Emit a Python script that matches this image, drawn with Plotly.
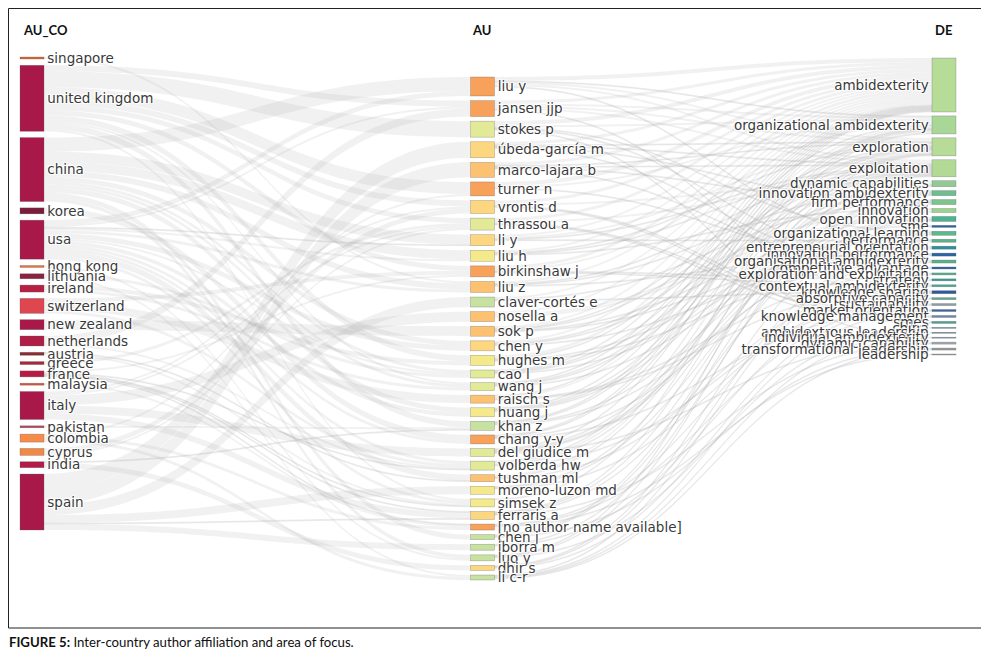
import plotly.graph_objects as go
from collections import defaultdict

# ---------------- DATA ----------------
countries = ["singapore", "united kingdom", "china", "korea", "usa", "hong kong", "lithuania",
             "ireland", "switzerland", "new zealand", "netherlands", "austria", "greece", "france",
             "malaysia", "italy", "pakistan", "colombia", "cyprus", "india", "spain"]

authors = ["liu y", "jansen jjp", "stokes p", "úbeda-garcía m", "marco-lajara b", "turner n",
           "vrontis d", "thrassou a", "li y", "liu h", "birkinshaw j", "liu z", "claver-cortés e",
           "nosella a", "sok p", "chen y", "hughes m", "cao l", "wang j", "raisch s", "huang j",
           "khan z", "chang y-y", "del giudice m", "volberda hw", "tushman ml", "moreno-luzon md",
           "simsek z", "ferraris a", "[no author name available]", "chen j", "iborra m", "luo y",
           "dhir s", "li c-r"]

keywords = ["ambidexterity", "organizational ambidexterity", "exploration", "exploitation",
            "dynamic capabilities", "innovation ambidexterity", "firm performance", "innovation",
            "open innovation", "sme", "organizational learning", "performance",
            "entrepreneurial orientation", "innovation performance", "organisational ambidexterity",
            "competitive advantage", "exploration and exploitation", "strategy",
            "contextual ambidexterity", "knowledge sharing", "absorptive capacity", "sustainability",
            "market orientation", "knowledge management", "smes", "china", "ambidextrous leadership",
            "individual ambidexterity", "dynamic capability", "transformational leadership",
            "leadership"]

country_author_links = [
    ("china", "liu y", 14), ("usa", "liu y", 5),
    ("netherlands", "jansen jjp", 8), ("usa", "jansen jjp", 2), ("united kingdom", "jansen jjp", 6),
    ("united kingdom", "stokes p", 16),
    ("spain", "úbeda-garcía m", 16),
    ("spain", "marco-lajara b", 15),
    ("united kingdom", "turner n", 12), ("colombia", "turner n", 2),
    ("italy", "vrontis d", 2), ("cyprus", "vrontis d", 5), ("united kingdom", "vrontis d", 6),
    ("italy", "thrassou a", 2), ("cyprus", "thrassou a", 2), ("greece", "thrassou a", 3),
    ("united kingdom", "thrassou a", 5),
    ("china", "li y", 10), ("usa", "li y", 1),
    ("china", "liu h", 9), ("usa", "liu h", 2),
    ("switzerland", "birkinshaw j", 4), ("france", "birkinshaw j", 2), ("united kingdom", "birkinshaw j", 5),
    ("singapore", "liu z", 2), ("china", "liu z", 6), ("usa", "liu z", 3),
    ("spain", "claver-cortés e", 10),
    ("italy", "nosella a", 10),
    ("new zealand", "sok p", 10),
    ("china", "chen y", 5), ("usa", "chen y", 5),
    ("ireland", "hughes m", 4), ("united kingdom", "hughes m", 6),
    ("china", "cao l", 3), ("usa", "cao l", 2), ("lithuania", "cao l", 3),
    ("china", "wang j", 3), ("ireland", "wang j", 3), ("united kingdom", "wang j", 2),
    ("switzerland", "raisch s", 8),
    ("china", "huang j", 5), ("usa", "huang j", 4),
    ("pakistan", "khan z", 2), ("india", "khan z", 1), ("united kingdom", "khan z", 6),
    ("korea", "chang y-y", 6), ("usa", "chang y-y", 3),
    ("italy", "del giudice m", 8),
    ("netherlands", "volberda hw", 2), ("switzerland", "volberda hw", 3), ("usa", "volberda hw", 3),
    ("france", "volberda hw", 1),
    ("usa", "tushman ml", 6), ("austria", "tushman ml", 1),
    ("spain", "moreno-luzon md", 8),
    ("usa", "simsek z", 3), ("austria", "simsek z", 2), ("france", "simsek z", 1),
    ("united kingdom", "simsek z", 2),
    ("italy", "ferraris a", 6), ("spain", "ferraris a", 1), ("france", "ferraris a", 1),
    ("malaysia", "[no author name available]", 2), ("france", "[no author name available]", 1),
    ("colombia", "[no author name available]", 3),
    ("china", "chen j", 5),
    ("spain", "iborra m", 6),
    ("china", "luo y", 4), ("hong kong", "luo y", 2),
    ("india", "dhir s", 5),
    ("lithuania", "li c-r", 2), ("colombia", "li c-r", 3),
]

author_keyword_links = [
    ("liu y", "ambidexterity", 4), ("jansen jjp", "ambidexterity", 3), ("stokes p", "ambidexterity", 4),
    ("úbeda-garcía m", "ambidexterity", 3), ("marco-lajara b", "ambidexterity", 3),
    ("turner n", "ambidexterity", 4), ("vrontis d", "ambidexterity", 3), ("thrassou a", "ambidexterity", 3),
    ("li y", "ambidexterity", 2), ("liu h", "ambidexterity", 2), ("birkinshaw j", "ambidexterity", 3),
    ("liu z", "ambidexterity", 2), ("claver-cortés e", "ambidexterity", 2), ("nosella a", "ambidexterity", 2),
    ("sok p", "ambidexterity", 2), ("chen y", "ambidexterity", 2), ("hughes m", "ambidexterity", 3),
    ("cao l", "ambidexterity", 1), ("wang j", "ambidexterity", 1), ("raisch s", "ambidexterity", 1),
    ("huang j", "ambidexterity", 1), ("khan z", "ambidexterity", 1), ("chang y-y", "ambidexterity", 1),
    ("del giudice m", "ambidexterity", 1),
    ("jansen jjp", "organizational ambidexterity", 2), ("turner n", "organizational ambidexterity", 2),
    ("birkinshaw j", "organizational ambidexterity", 2), ("stokes p", "organizational ambidexterity", 2),
    ("hughes m", "organizational ambidexterity", 1), ("raisch s", "organizational ambidexterity", 2),
    ("tushman ml", "organizational ambidexterity", 2), ("volberda hw", "organizational ambidexterity", 1),
    ("simsek z", "organizational ambidexterity", 1), ("khan z", "organizational ambidexterity", 1),
    ("chang y-y", "organizational ambidexterity", 1), ("liu y", "organizational ambidexterity", 1),
    ("jansen jjp", "exploration", 2), ("liu y", "exploration", 2), ("li y", "exploration", 2),
    ("liu h", "exploration", 1), ("marco-lajara b", "exploration", 1), ("úbeda-garcía m", "exploration", 1),
    ("volberda hw", "exploration", 2), ("tushman ml", "exploration", 1), ("sok p", "exploration", 1),
    ("cao l", "exploration", 1), ("wang j", "exploration", 1), ("huang j", "exploration", 1),
    ("ferraris a", "exploration", 1), ("luo y", "exploration", 1),
    ("jansen jjp", "exploitation", 2), ("liu y", "exploitation", 2), ("li y", "exploitation", 1),
    ("liu h", "exploitation", 1), ("liu z", "exploitation", 1), ("úbeda-garcía m", "exploitation", 1),
    ("marco-lajara b", "exploitation", 1), ("volberda hw", "exploitation", 1), ("sok p", "exploitation", 1),
    ("chen y", "exploitation", 1), ("cao l", "exploitation", 1), ("wang j", "exploitation", 1),
    ("huang j", "exploitation", 1), ("chen j", "exploitation", 1), ("moreno-luzon md", "exploitation", 1),
    ("vrontis d", "dynamic capabilities", 2), ("thrassou a", "dynamic capabilities", 2),
    ("del giudice m", "dynamic capabilities", 1), ("ferraris a", "dynamic capabilities", 1),
    ("liu z", "innovation ambidexterity", 1), ("chen y", "innovation ambidexterity", 1),
    ("huang j", "innovation ambidexterity", 1), ("chen j", "innovation ambidexterity", 1),
    ("luo y", "innovation ambidexterity", 1),
    ("úbeda-garcía m", "firm performance", 1), ("marco-lajara b", "firm performance", 1),
    ("claver-cortés e", "firm performance", 1), ("moreno-luzon md", "firm performance", 1),
    ("iborra m", "firm performance", 1),
    ("nosella a", "innovation", 2), ("liu h", "innovation", 1), ("del giudice m", "innovation", 1),
    ("nosella a", "open innovation", 2), ("ferraris a", "open innovation", 1),
    ("del giudice m", "open innovation", 1), ("khan z", "open innovation", 1),
    ("sok p", "sme", 1), ("dhir s", "sme", 1),
    ("stokes p", "organizational learning", 1), ("hughes m", "organizational learning", 1),
    ("cao l", "organizational learning", 1), ("wang j", "organizational learning", 1),
    ("liu y", "performance", 1), ("li y", "performance", 1), ("chang y-y", "performance", 1),
    ("dhir s", "entrepreneurial orientation", 1), ("khan z", "entrepreneurial orientation", 1),
    ("sok p", "entrepreneurial orientation", 1),
    ("liu z", "innovation performance", 1), ("chen y", "innovation performance", 1),
    ("li c-r", "innovation performance", 1),
    ("stokes p", "organisational ambidexterity", 1), ("turner n", "organisational ambidexterity", 1),
    ("hughes m", "organisational ambidexterity", 1),
    ("úbeda-garcía m", "competitive advantage", 1), ("marco-lajara b", "competitive advantage", 1),
    ("raisch s", "exploration and exploitation", 1), ("[no author name available]", "exploration and exploitation", 1),
    ("birkinshaw j", "strategy", 1), ("tushman ml", "strategy", 1),
    ("birkinshaw j", "contextual ambidexterity", 1), ("raisch s", "contextual ambidexterity", 1),
    ("claver-cortés e", "knowledge sharing", 1), ("iborra m", "knowledge sharing", 1),
    ("moreno-luzon md", "knowledge sharing", 1),
    ("volberda hw", "absorptive capacity", 1), ("jansen jjp", "absorptive capacity", 1),
    ("[no author name available]", "sustainability", 1), ("dhir s", "sustainability", 1),
    ("chang y-y", "market orientation", 1), ("li c-r", "market orientation", 1),
    ("vrontis d", "knowledge management", 1), ("thrassou a", "knowledge management", 1),
    ("vrontis d", "smes", 1), ("thrassou a", "smes", 1),
    ("luo y", "china", 1),
    ("li c-r", "ambidextrous leadership", 1),
    ("stokes p", "individual ambidexterity", 1),
    ("del giudice m", "dynamic capability", 1), ("ferraris a", "dynamic capability", 1),
    ("chen j", "transformational leadership", 1), ("li c-r", "transformational leadership", 1),
    ("[no author name available]", "leadership", 1),
]

column_titles = ["AU_CO", "AU", "DE"]
caption_bold = "FIGURE 5:"
caption_text = " Inter-country author affiliation and area of focus."

# ---------------- STYLES ----------------
crimson = "#A8194A"
country_colors = {
    "singapore": "#E0632F", "united kingdom": crimson, "china": crimson, "korea": "#7A1D3C",
    "usa": crimson, "hong kong": "#E8743A", "lithuania": "#8C2240", "ireland": "#B52045",
    "switzerland": "#DE4650", "new zealand": crimson, "netherlands": "#B01E48", "austria": "#8A2E30",
    "greece": "#A82838", "france": "#B81C44", "malaysia": "#D9543C", "italy": crimson,
    "pakistan": "#B04858", "colombia": "#F58C4A", "cyprus": "#F28846", "india": "#B41C48",
    "spain": crimson,
}
OR, LO, GD, YE, YG, GR = "#F7A15A", "#FCC272", "#FDD680", "#F4EA8C", "#E2EA98", "#C6E1A0"
author_colors = {
    "liu y": OR, "jansen jjp": OR, "stokes p": YG, "úbeda-garcía m": GD, "marco-lajara b": LO,
    "turner n": OR, "vrontis d": GD, "thrassou a": YG, "li y": GD, "liu h": YE, "birkinshaw j": OR,
    "liu z": LO, "claver-cortés e": GR, "nosella a": LO, "sok p": LO, "chen y": GD, "hughes m": YE,
    "cao l": YG, "wang j": YG, "raisch s": LO, "huang j": YE, "khan z": GR, "chang y-y": OR,
    "del giudice m": YG, "volberda hw": YG, "tushman ml": LO, "moreno-luzon md": YE, "simsek z": YE,
    "ferraris a": GD, "[no author name available]": OR, "chen j": GR, "iborra m": GR, "luo y": GR,
    "dhir s": GD, "li c-r": GR,
}
keyword_colors = {
    "ambidexterity": "#B6DC98", "organizational ambidexterity": "#A9D797", "exploration": "#B6DC98",
    "exploitation": "#B2DA96", "dynamic capabilities": "#8FCB92", "innovation ambidexterity": "#6DBE8E",
    "firm performance": "#7CC48E", "innovation": "#9AD38E", "open innovation": "#4DB38F",
    "sme": "#2C5FA8", "organizational learning": "#5BB98C", "performance": "#5DB08A",
    "entrepreneurial orientation": "#2B8FA0", "innovation performance": "#2B62A8",
    "organisational ambidexterity": "#5BB08E", "competitive advantage": "#2C66A6",
    "exploration and exploitation": "#55B08C", "strategy": "#3A9C9A",
    "contextual ambidexterity": "#48A99A", "knowledge sharing": "#2E5AA0",
    "absorptive capacity": "#5FA88E", "sustainability": "#8C9CA8", "market orientation": "#3665A8",
    "knowledge management": "#6F86A8", "smes": "#4AA28C", "china": "#708AA0",
    "ambidextrous leadership": "#6F80A0", "individual ambidexterity": "#8090A8",
    "dynamic capability": "#A0A8B0", "transformational leadership": "#9A9A9A", "leadership": "#A0A0A0",
}

# page offset: the plot div sits 8px inside the browser page
OFF = 8
W, H = 989 - OFF, 664 - OFF
def px(v):
    return v - OFF

dom_x0, dom_x1 = px(20), px(957)          # sankey domain (px)
dom_top, dom_bot = px(57), px(580)
col_cx = [px(32), px(482.5), px(944)]     # node column centres (px)
col_span = [(px(57), px(530)), (px(77), px(580)), (px(58), px(355))]
thick = 24
pad = 5.18

# ---------------- NODE SIZES & POSITIONS (derived from the links) ----------------
c_out = defaultdict(float); a_in = defaultdict(float); a_out = defaultdict(float); k_in = defaultdict(float)
for c, a, v in country_author_links:
    c_out[c] += v; a_in[a] += v
for a, k, v in author_keyword_links:
    a_out[a] += v; k_in[k] += v
sizes = [[c_out[c] for c in countries],
         [max(a_in[a], a_out[a]) for a in authors],
         [k_in[k] for k in keywords]]

Hd = dom_bot - dom_top
ky = min((Hd - (len(s) - 1) * pad) / sum(s) for s in sizes)

def centres(sz, span):
    top, bot = span
    total = sum(sz) * ky
    gap = (bot - top - total) / (len(sz) - 1)
    y, out = top, []
    for v in sz:
        h = v * ky
        out.append(y + h / 2)
        y += h + gap
    return out

node_x, node_y = [], []
for col, sz in enumerate(sizes):
    for yc in centres(sz, col_span[col]):
        node_x.append((col_cx[col] - dom_x0) / (dom_x1 - dom_x0))
        node_y.append((yc - dom_top) / Hd)

labels = countries + authors + keywords
colors = ([country_colors[c] for c in countries] + [author_colors[a] for a in authors]
          + [keyword_colors[k] for k in keywords])
ci = {c: i for i, c in enumerate(countries)}
ai = {a: len(countries) + i for i, a in enumerate(authors)}
ki = {k: len(countries) + len(authors) + i for i, k in enumerate(keywords)}

src, tgt, val = [], [], []
for c, a, v in country_author_links:
    src.append(ci[c]); tgt.append(ai[a]); val.append(v)
for a, k, v in author_keyword_links:
    src.append(ai[a]); tgt.append(ki[k]); val.append(v)

fig = go.Figure(go.Sankey(
    arrangement="fixed",
    domain=dict(x=[dom_x0 / W, dom_x1 / W], y=[1 - dom_bot / H, 1 - dom_top / H]),
    node=dict(label=labels, color=colors, x=node_x, y=node_y, pad=pad, thickness=thick,
              line=dict(color="rgba(90,90,90,0.45)", width=0.6)),
    link=dict(source=src, target=tgt, value=val, color="rgba(170,170,170,0.17)"),
    textfont=dict(family="DejaVu Sans", size=13.5, color="#3a3a3a"),
    hoverinfo="skip",
))

title_x = [45, 481, 943]
for t, x in zip(column_titles, title_x):
    fig.add_annotation(x=px(x) / W, y=1 - px(30) / H, xref="paper", yref="paper", text=f"<b>{t}</b>",
                       showarrow=False, xanchor="center", yanchor="middle",
                       font=dict(family="Lato", size=13, color="#111"))

fig.add_annotation(x=0, y=1 - px(642) / H, xref="paper", yref="paper",
                   text=f"<b>{caption_bold}</b>{caption_text}", showarrow=False,
                   xanchor="left", yanchor="middle", xshift=-1,
                   font=dict(family="Lato", size=13.2, color="#111"))

fig.add_shape(type="rect", xref="paper", yref="paper", x0=px(8.5) / W, x1=px(982) / W,
              y0=1 - px(628) / H, y1=1 - px(8.5) / H, line=dict(color="#222", width=1))

fig.update_layout(width=W, height=H, margin=dict(l=0, r=0, t=0, b=0),
                  paper_bgcolor="white", plot_bgcolor="white", showlegend=False)
fig.write_html("out.html")
